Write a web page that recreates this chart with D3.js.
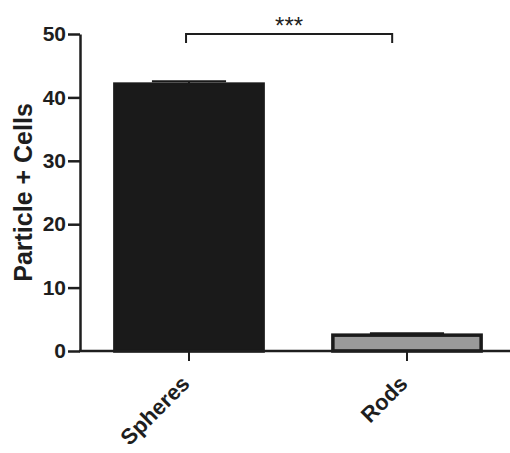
<!DOCTYPE html>
<html>
<head>
<meta charset="utf-8">
<script src="https://cdn.jsdelivr.net/npm/d3@7"></script>
<style>
  body { margin: 0; background: #fff; }
  text { font-family: "Liberation Sans", Arial, sans-serif; fill: #1e1e1e; }
</style>
</head>
<body>
<svg id="chart" width="510" height="453"></svg>
<script>
// data
var groups = ["Spheres", "Rods"];
var means = [42.1, 2.5];
var errors = [0.45, 0.3];
var fills = ["#1a1a1a", "#9a9a9a"];
var yTicks = [0, 10, 20, 30, 40, 50];
var yLabel = "Particle + Cells";
var sigLabel = "***";

var svg = d3.select("#chart");

var x = d3.scaleBand()
    .domain(groups)
    .range([80, 516])
    .paddingInner(0.32)
    .paddingOuter(0.16);

var y = d3.scaleLinear()
    .domain([0, 50])
    .range([351, 34]);

//bars
svg.selectAll(".bar")
    .data(groups).enter()
    .append("rect")
    .attr("class", "bar")
    .attr("x", d => x(d))
    .attr("width", x.bandwidth())
    .attr("y", (d, i) => y(means[i]))
    .attr("height", (d, i) => y(0) - y(means[i]))
    .attr("fill", (d, i) => fills[i])
    .attr("stroke", "#1a1a1a")
    .attr("stroke-width", 3.5);

//error bars, upper half only
var err = svg.selectAll(".err")
    .data(groups).enter()
    .append("g")
    .attr("class", "err");
err.append("line")
    .attr("x1", d => x(d) + x.bandwidth() / 2)
    .attr("x2", d => x(d) + x.bandwidth() / 2)
    .attr("y1", (d, i) => y(means[i]))
    .attr("y2", (d, i) => y(means[i] + errors[i]))
    .attr("stroke", "#1a1a1a")
    .attr("stroke-width", 2);
err.append("line")
    .attr("x1", d => x(d) + x.bandwidth() * 0.25)
    .attr("x2", d => x(d) + x.bandwidth() * 0.75)
    .attr("y1", (d, i) => y(means[i] + errors[i]))
    .attr("y2", (d, i) => y(means[i] + errors[i]))
    .attr("stroke", "#1a1a1a")
    .attr("stroke-width", 2);

//y axis
var yAxis = svg.append("g")
    .attr("transform", "translate(80,0)")
    .call(d3.axisLeft(y).tickValues(yTicks).tickSize(12).tickSizeOuter(0).tickPadding(2));
yAxis.select(".domain").attr("stroke", "#1e1e1e").attr("stroke-width", 2.5);
yAxis.selectAll(".tick line").attr("stroke", "#1e1e1e").attr("stroke-width", 2.5);
yAxis.selectAll(".tick text")
    .style("font-family", "'Liberation Sans', Arial, sans-serif")
    .style("font-size", "21px")
    .style("font-weight", "bold")
    .attr("fill", "#1e1e1e");

//x axis line runs to the edge
svg.append("line")
    .attr("x1", 79)
    .attr("x2", 510)
    .attr("y1", y(0))
    .attr("y2", y(0))
    .attr("stroke", "#1e1e1e")
    .attr("stroke-width", 2.5);

//x ticks and rotated labels
svg.selectAll(".xtick")
    .data(groups).enter()
    .append("line")
    .attr("class", "xtick")
    .attr("x1", d => x(d) + x.bandwidth() / 2)
    .attr("x2", d => x(d) + x.bandwidth() / 2)
    .attr("y1", y(0))
    .attr("y2", y(0) + 10)
    .attr("stroke", "#1e1e1e")
    .attr("stroke-width", 2);

svg.selectAll(".xlabel")
    .data(groups).enter()
    .append("text")
    .attr("class", "xlabel")
    .attr("text-anchor", "end")
    .attr("transform", d => "translate(" + (x(d) + x.bandwidth() / 2 + 2) + "," + (y(0) + 34) + ") rotate(-45)")
    .style("font-size", "22px")
    .style("font-weight", "bold")
    .text(d => d);

//y title
svg.append("text")
    .attr("text-anchor", "middle")
    .attr("transform", "translate(32," + y(25) + ") rotate(-90)")
    .style("font-size", "25px")
    .style("font-weight", "bold")
    .text(yLabel);

//significance bracket
var bx1 = x("Spheres") + x.bandwidth() * 0.48;
var bx2 = x("Rods") + x.bandwidth() * 0.40;
var by = y(50);
svg.append("path")
    .attr("d", "M" + bx1 + "," + (by + 9) + "V" + by + "H" + bx2 + "V" + (by + 9))
    .attr("fill", "none")
    .attr("stroke", "#1e1e1e")
    .attr("stroke-width", 2);
svg.append("text")
    .attr("x", (bx1 + bx2) / 2)
    .attr("y", by)
    .attr("text-anchor", "middle")
    .style("font-size", "24px")
    .text(sigLabel);
</script>
</body>
</html>
